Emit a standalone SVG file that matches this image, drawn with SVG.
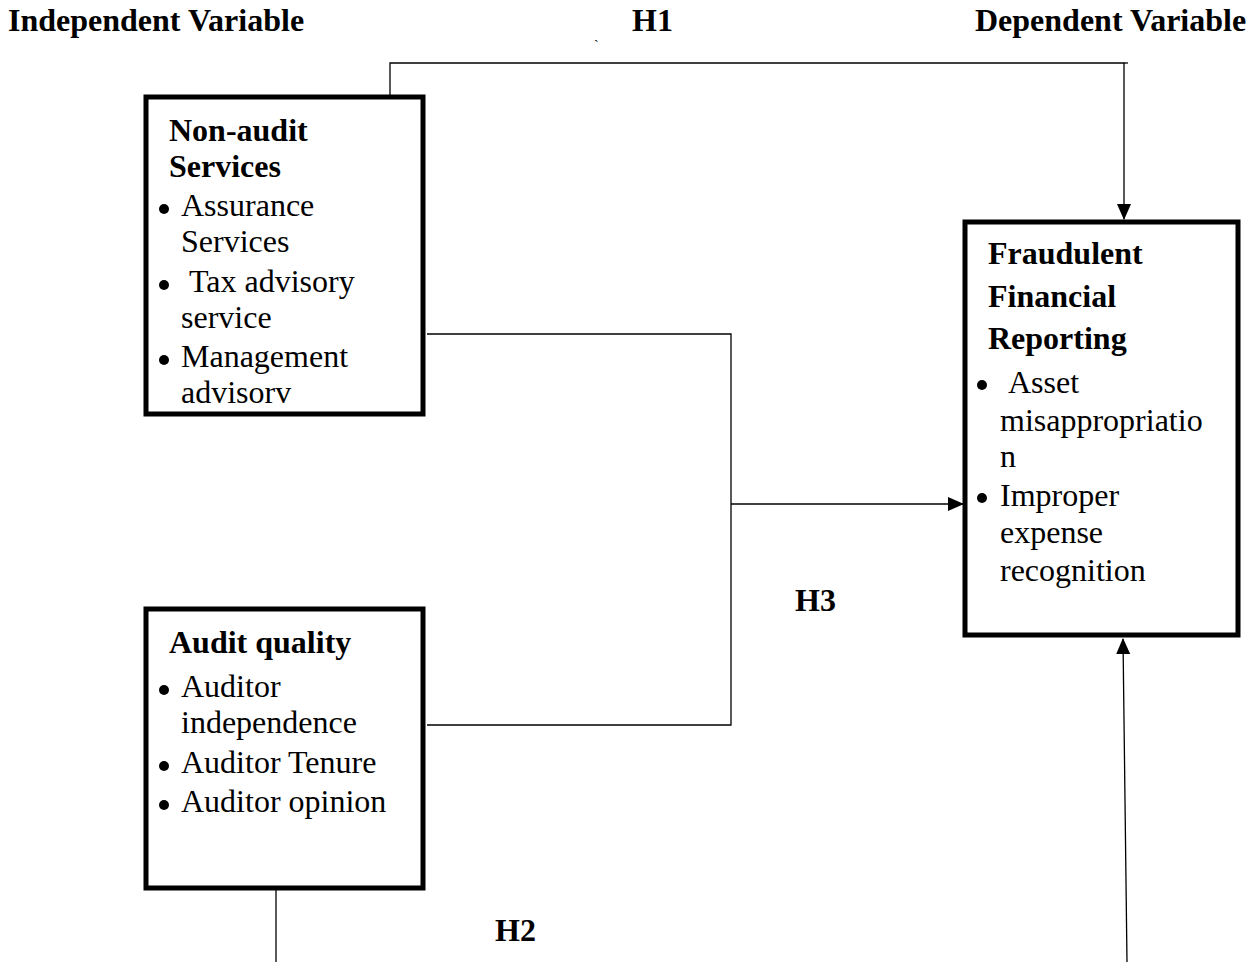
<svg xmlns="http://www.w3.org/2000/svg" width="1260" height="962" viewBox="0 0 1260 962">
<style>
.b{font-family:"Liberation Serif","Times New Roman",serif;font-weight:bold;font-size:32px;fill:#000}
.t{font-family:"Liberation Serif","Times New Roman",serif;font-size:32px;fill:#000}
.box{fill:#fff;stroke:#000;stroke-width:5}
.ln{fill:none;stroke:#000;stroke-width:1.3}
.dot{fill:#000}
</style>
<defs>
<marker id="ah" markerWidth="16" markerHeight="16" viewBox="0 0 16 16" refX="15" refY="8" orient="auto" markerUnits="userSpaceOnUse">
<path d="M0,1 L16,8 L0,15 Z" fill="#000"/>
</marker>
</defs>
<rect width="1260" height="962" fill="#fff"/>
<g id="headers">
<text class="b" x="8" y="31">Independent Variable</text>
<text class="b" x="632" y="31">H1</text>
<text class="b" x="975" y="31">Dependent Variable</text>
<text class="t" x="594" y="50" style="font-size:14px">`</text>
</g>
<g id="connectors">
<polyline class="ln" points="390,97 390,63 1124,63 1124,219" marker-end="url(#ah)"/>
<line class="ln" x1="1124" y1="63" x2="1128" y2="63"/>
<polyline class="ln" points="427,334 731,334 731,725 427,725"/>
<line class="ln" x1="731" y1="504" x2="963" y2="504" marker-end="url(#ah)"/>
<line class="ln" x1="276" y1="888" x2="276" y2="962"/>
<line class="ln" x1="1127" y1="962" x2="1123" y2="639" marker-end="url(#ah)"/>
</g>
<g id="node-nonaudit">
<rect class="box" x="146" y="97" width="277" height="317"/>
<text class="b" x="169" y="141">Non-audit</text>
<text class="b" x="169" y="177">Services</text>
<circle class="dot" cx="164" cy="209" r="5"/><text class="t" x="181" y="216">Assurance</text>
<text class="t" x="181" y="252">Services</text>
<circle class="dot" cx="164" cy="285" r="5"/><text class="t" x="189" y="292">Tax advisory</text>
<text class="t" x="181" y="328">service</text>
<circle class="dot" cx="164" cy="360" r="5"/><text class="t" x="181" y="367">Management</text>
<text class="t" x="181" y="403">advisorv</text>
</g>
<g id="node-auditquality">
<rect class="box" x="146" y="609" width="277" height="279"/>
<text class="b" x="169" y="653">Audit quality</text>
<circle class="dot" cx="164" cy="690" r="5"/><text class="t" x="181" y="697">Auditor</text>
<text class="t" x="181" y="733">independence</text>
<circle class="dot" cx="164" cy="766" r="5"/><text class="t" x="181" y="773">Auditor Tenure</text>
<circle class="dot" cx="164" cy="805" r="5"/><text class="t" x="181" y="812">Auditor opinion</text>
</g>
<g id="node-ffr">
<rect class="box" x="965" y="222" width="273" height="413"/>
<text class="b" x="988" y="264">Fraudulent</text>
<text class="b" x="988" y="307">Financial</text>
<text class="b" x="988" y="349">Reporting</text>
<circle class="dot" cx="982" cy="385" r="5"/><text class="t" x="1008" y="393">Asset</text>
<text class="t" x="1000" y="431">misappropriatio</text>
<text class="t" x="1000" y="467">n</text>
<circle class="dot" cx="982" cy="498" r="5"/><text class="t" x="1000" y="506">Improper</text>
<text class="t" x="1000" y="543">expense</text>
<text class="t" x="1000" y="581">recognition</text>
</g>
<g id="labels">
<text class="b" x="795" y="611">H3</text>
<text class="b" x="495" y="941">H2</text>
</g>
</svg>
